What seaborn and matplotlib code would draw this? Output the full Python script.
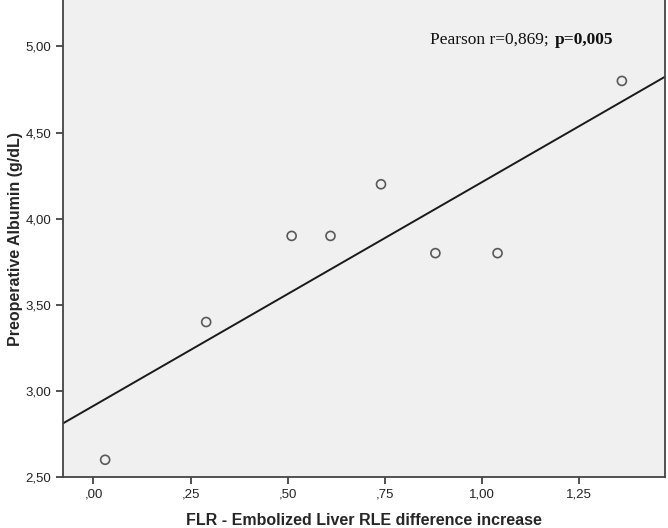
import numpy as np
import pandas as pd
import matplotlib
matplotlib.use('Agg')
import matplotlib.pyplot as plt
from matplotlib.ticker import FuncFormatter
import seaborn as sns

# Data
flr_increase = [0.03, 0.29, 0.51, 0.61, 0.74, 0.88, 1.04, 1.36]
albumin = [2.6, 3.4, 3.9, 3.9, 4.2, 3.8, 3.8, 4.8]
x_ticks = [0.0, 0.25, 0.5, 0.75, 1.0, 1.25]
y_ticks = [2.5, 3.0, 3.5, 4.0, 4.5, 5.0]

df = pd.DataFrame({'flr': flr_increase, 'alb': albumin})

sns.set_style('ticks')
plt.rcParams['font.family'] = ['Liberation Sans', 'DejaVu Sans']

fig = plt.figure(figsize=(6.68, 5.28), dpi=100)
ax = fig.add_axes([63 / 668, 51 / 528, 602 / 668, 477 / 528])
ax.set_facecolor('#f0f0f0')
ax.set_xlim(-0.0785, 1.471)
ax.set_ylim(2.5, 5.27)

sns.regplot(data=df, x='flr', y='alb', ax=ax, ci=None, truncate=False,
            scatter_kws={'s': 42, 'facecolors': 'none', 'edgecolors': '#333333', 'linewidths': 1.2},
            line_kws={'color': '#1a1a1a', 'lw': 1.4})

def comma_fmt(v, pos):
    s = f'{v:.2f}'.replace('.', ',')
    if s.startswith('0,'):
        s = s[1:]
    return s

ax.set_xticks(x_ticks)
ax.set_yticks(y_ticks)
ax.xaxis.set_major_formatter(FuncFormatter(comma_fmt))
ax.yaxis.set_major_formatter(FuncFormatter(comma_fmt))
ax.tick_params(axis='both', labelsize=9.5, length=5, width=1.2, color='#333333',
               labelcolor='#222222', direction='out')

for side in ['left', 'bottom', 'right']:
    ax.spines[side].set_color('#444444')
    ax.spines[side].set_linewidth(1.3)
ax.spines['top'].set_visible(False)

ax.set_xlabel('FLR - Embolized Liver RLE difference increase', fontsize=11.5,
              fontweight='bold', labelpad=9)
ax.set_ylabel('Preoperative Albumin (g/dL)', fontsize=11.5, fontweight='bold', labelpad=2)

ax.text(0.866, 5.04, 'Pearson r=0,869;', family='Liberation Serif', fontsize=12.5,
        va='center', ha='left', color='#111111')
ax.text(1.188, 5.04, 'p=0,005', family='Liberation Serif', fontsize=12.5,
        fontweight='bold', va='center', ha='left', color='#111111')

fig.savefig('out.png', dpi=100)
